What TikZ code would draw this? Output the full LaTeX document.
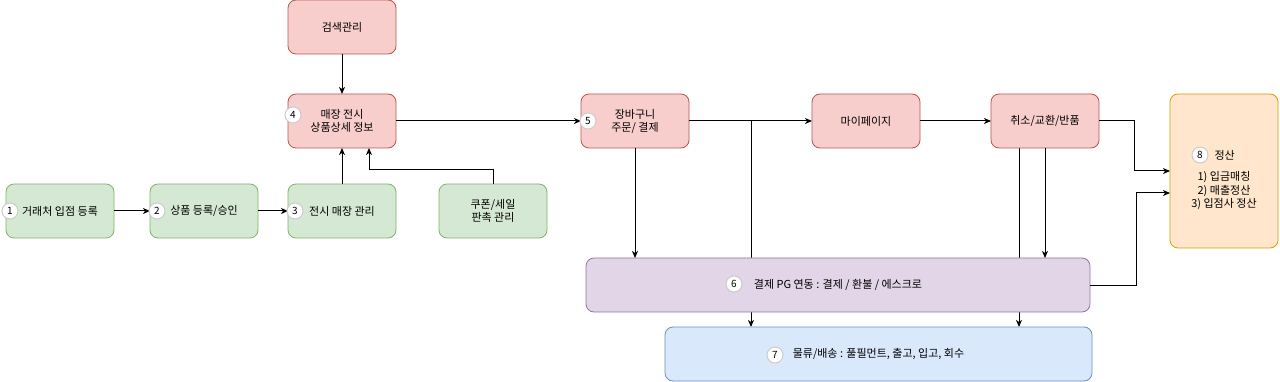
\documentclass[tikz,border=0pt]{standalone}
\usepackage{fontspec}
\setmainfont{Noto Sans CJK KR}
\usepackage{xcolor}
\usepackage{tikz}
\usetikzlibrary{shapes.geometric, arrows, arrows.meta, positioning, backgrounds}

\definecolor{greenfill}{HTML}{D5E8D4}
\definecolor{greenline}{HTML}{82B366}
\definecolor{redfill}{HTML}{F8CECC}
\definecolor{redline}{HTML}{B85450}
\definecolor{purplefill}{HTML}{E1D5E7}
\definecolor{purpleline}{HTML}{9673A6}
\definecolor{bluefill}{HTML}{DAE8FC}
\definecolor{blueline}{HTML}{6C8EBF}
\definecolor{orangefill}{HTML}{FFE6CC}
\definecolor{orangeline}{HTML}{D79B00}

\begin{document}
\begin{tikzpicture}[x=1pt, y=1pt,
            every node/.style={font=\fontsize{11}{13}\selectfont},
            block/.style={draw, rectangle, rounded corners=8pt, minimum width=108pt, minimum height=54pt, text centered, align=center, line width=0.8pt, outer sep=0pt},
            greenblock/.style={block, draw=greenline, fill=greenfill},
            redblock/.style={block, draw=redline, fill=redfill},
            purpleblock/.style={block, draw=purpleline, fill=purplefill},
            blueblock/.style={block, draw=blueline, fill=bluefill},
            orangeblock/.style={block, draw=orangeline, fill=orangefill},
            num/.style={circle, draw=black!20, fill=white, minimum size=16pt, inner sep=0pt, line width=1pt, font=\fontsize{10}{12}\selectfont},
            arrow/.style={line width=1pt,-{Stealth[length=7pt, width=6pt, inset=2pt]}}]

            \useasboundingbox (0,0) rectangle (1280,-382);

            % Nodes
            \node (deal) [greenblock] at (60,-211) {거래처 입점 등록};
            \node (goods) [greenblock, right=36pt of deal] {상품 등록/승인};
            \node (shop) [greenblock, right=30pt of goods] {전시 매장 관리};
            \node (promo) [greenblock, right=43pt of shop] {쿠폰/세일\\판촉 관리};
            \node (display) [redblock, above=36pt of shop] {매장 전시\\상품상세 정보};
            \node (search) [redblock, above=40pt of display] {검색관리};
            \node (cart) [redblock, right=185pt of display] {장바구니\\주문/ 결제};
            \node (mypage) [redblock, right=123pt of cart] {마이페이지};
            \node (cancel) [redblock, right=71pt of mypage] {취소/교환/반품};
            \node (settle) [orangeblock, minimum height=154pt, anchor=north west] at ([xshift=71pt]cancel.north east) {};
            \node (pg) [purpleblock, minimum width=504pt, anchor=north west] at ([xshift=5pt, yshift=-110pt]cart.south west) {결제 PG 연동 : 결제 / 환불 / 에스크로};
            \node (logi) [blueblock, minimum width=427pt, anchor=north east] at ([xshift=2pt, yshift=-15pt]pg.south east) {물류/배송 : 풀필먼트, 출고, 입고, 회수};

            % Settlement text
            \node (settlehead) [anchor=west] at ([xshift=41pt, yshift=-61pt]settle.north west) {정산};
            \node (settlelist) [align=center, font=\fontsize{11}{13.5}\selectfont] at ([yshift=-97pt]settle.north) {1) 입금매칭\\2) 매출정산\\3) 입점사 정산};

            % Arrows
            \draw [arrow] (deal.east) -- (goods.west);
            \draw [arrow] (goods.east) -- (shop.west);
            \draw [arrow] (shop.north) -- (display.south);
            \draw [arrow] (promo.north) -- ++(0,14) -| ([xshift=27pt]display.south);
            \draw [arrow] (search.south) -- (display.north);
            \draw [arrow] (display.east) -- (cart.west);
            \draw [arrow] (cart.east) -- (mypage.west);
            \draw [arrow] (cart.south) -- (cart.south |- pg.north);
            \draw [arrow] (mypage.east) -- (cancel.west);
            \draw [arrow] (cancel.south) -- (cancel.south |- pg.north);
            \draw [arrow] (cancel.east) -- ++(35,0) |- (settle.west);
            \draw [arrow] (pg.east) -- ++(46,0) |- ([yshift=-22pt]settle.west);

            % lines running behind the PG box
            \coordinate (split) at ([xshift=62pt]cart.east);
            \coordinate (refund) at ([xshift=-26pt]cancel.south);
            \begin{pgfonlayer}{background}
            \draw [arrow] (split) -- (split |- logi.north);
            \draw [arrow] (refund) -- (refund |- logi.north);
            \end{pgfonlayer}

            % Numbers
            \node (n1) [num] at ([xshift=4pt]deal.west) {1};
            \node (n2) [num] at ([xshift=7pt]goods.west) {2};
            \node (n3) [num] at ([xshift=7pt]shop.west) {3};
            \node (n4) [num] at ([xshift=5pt, yshift=6pt]display.west) {4};
            \node (n5) [num] at ([xshift=7pt]cart.west) {5};
            \node (n6) [num] at ([xshift=148pt, yshift=1pt]pg.west) {6};
            \node (n7) [num] at ([xshift=110pt, yshift=-1pt]logi.west) {7};
            \node (n8) [num] at ([xshift=30pt, yshift=-61pt]settle.north west) {8};
        \end{tikzpicture}
\end{document}
